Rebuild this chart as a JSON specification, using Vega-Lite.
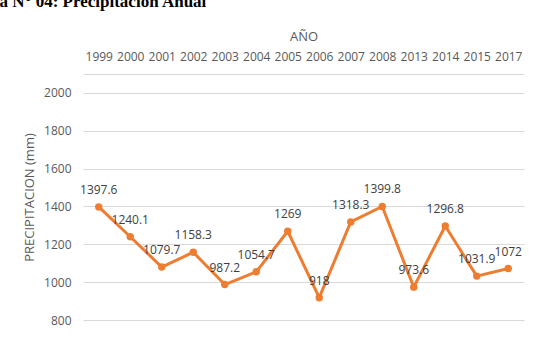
{
  "$schema": "https://vega.github.io/schema/vega-lite/v6.json",
  "width": 441,
  "height": 246,
  "autosize": {"type": "none"},
  "padding": {"left": 83, "top": 74, "right": 32, "bottom": 20},
  "background": "white",
  "title": {
    "text": "Figura N° 04: Precipitación Anual",
    "anchor": "start",
    "frame": "group",
    "font": "Liberation Serif",
    "fontSize": 17,
    "fontWeight": "bold",
    "color": "#000000",
    "dx": -124,
    "dy": -19,
    "offset": 0
  },
  "data": {
    "values": [
      {"anio": "1999", "mm": 1397.6},
      {"anio": "2000", "mm": 1240.1},
      {"anio": "2001", "mm": 1079.7},
      {"anio": "2002", "mm": 1158.3},
      {"anio": "2003", "mm": 987.2},
      {"anio": "2004", "mm": 1054.7},
      {"anio": "2005", "mm": 1269},
      {"anio": "2006", "mm": 918},
      {"anio": "2007", "mm": 1318.3},
      {"anio": "2008", "mm": 1399.8},
      {"anio": "2013", "mm": 973.6},
      {"anio": "2014", "mm": 1296.8},
      {"anio": "2015", "mm": 1031.9},
      {"anio": "2017", "mm": 1072}
    ]
  },
  "encoding": {
    "x": {
      "field": "anio",
      "type": "ordinal",
      "sort": null,
      "scale": {"type": "point", "padding": 0.5},
      "axis": {
        "orient": "top",
        "title": "AÑO",
        "labelAngle": 0,
        "ticks": false,
        "domain": true,
        "domainColor": "#d9d9d9",
        "domainWidth": 1,
        "grid": false,
        "labelPadding": 11,
        "titlePadding": 7
      }
    },
    "y": {
      "field": "mm",
      "type": "quantitative",
      "scale": {"domain": [800, 2100], "nice": false, "zero": false},
      "axis": {
        "title": "PRECIPITACION (mm)",
        "values": [800, 1000, 1200, 1400, 1600, 1800, 2000],
        "format": "d",
        "grid": true,
        "gridColor": "#d9d9d9",
        "gridWidth": 1,
        "domain": false,
        "ticks": false,
        "labelPadding": 12,
        "titlePadding": 7
      }
    }
  },
  "layer": [
    {
      "mark": {"type": "line", "color": "#ED7D31", "strokeWidth": 3, "strokeJoin": "round"}
    },
    {
      "mark": {"type": "circle", "color": "#ED7D31", "opacity": 1, "size": 55}
    },
    {
      "mark": {
        "type": "text",
        "dy": -17,
        "baseline": "middle",
        "font": "Open Sans",
        "fontSize": 12,
        "color": "#404040"
      },
      "encoding": {
        "text": {"field": "mm", "type": "quantitative", "format": "~f"}
      }
    }
  ],
  "config": {
    "view": {"stroke": null},
    "axis": {
      "labelFont": "Open Sans",
      "labelFontSize": 12,
      "labelColor": "#595959",
      "titleFont": "Open Sans",
      "titleFontSize": 13,
      "titleFontWeight": "normal",
      "titleColor": "#595959"
    }
  }
}
